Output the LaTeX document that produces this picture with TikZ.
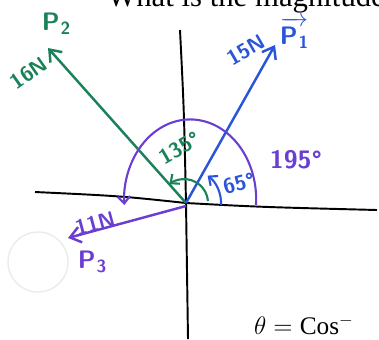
\documentclass[tikz,border=0pt]{standalone}
\usepackage{fontspec}
\setmainfont{Liberation Serif}
\usepackage{amsmath}
\usetikzlibrary{arrows.meta,positioning,calc}
\definecolor{penblue}{HTML}{2A55D8}
\definecolor{pengreen}{HTML}{1A8158}
\definecolor{penpurple}{HTML}{6B3ED2}
\newcommand{\Pvec}[1]{P\kern0.5pt\raisebox{-0.35ex}{\normalsize #1}}

\begin{document}
\begin{tikzpicture}[x=0.02cm, y=0.02cm,
  vec/.style={-{Straight Barb[length=6pt,width=9pt]}, line width=1.4pt, draw=#1},
  angarc/.style={-{Straight Barb[length=4pt,width=7pt]}, line width=1.2pt, draw=#1},
  axisline/.style={line width=1.1pt, black},
  pen/.style={font=\sffamily\bfseries\large, text=#1, inner sep=1pt}
]
  \useasboundingbox (0,0) rectangle (379,-339);
  % axes
  \coordinate (O) at (186,-203);
  \coordinate (xl) at (35,-192);
  \coordinate (xr) at (377,-210);
  \coordinate (yt) at (180,-30);
  \coordinate (yb) at (188,-339);
  \draw[axisline] (xl) .. controls (120,-196) .. (O) .. controls (260,-207) .. (xr);
  \draw[axisline] (yt) .. controls (184,-110) .. (O) -- (yb);

  % force vectors
  \coordinate (p1) at (275,-45);
  \coordinate (p2) at (48,-48);
  \coordinate (p3) at (68,-238);
  \draw[vec=pengreen] (O) -- (p2);
  \draw[vec=penblue] (O) -- (p1);
  \draw[vec=penpurple] ($(O)+(0,-3)$) -- (p3);

  % angle arcs
  \draw[angarc=penpurple] (256,-205) arc[start angle=-4, end angle=184, x radius=66, y radius=80];
  \draw[angarc=pengreen] (208,-201) arc[start angle=5, end angle=128, radius=24];
  \draw[angarc=penblue] (221,-205) arc[start angle=-3, end angle=52, radius=35];

  % labels
  \node[pen=pengreen, font=\sffamily\bfseries\Large] (lp2) at (56,-24) {\Pvec{2}};
  \node[pen=pengreen, rotate=35] (l16) at (29,-73) {16N};
  \node[pen=penblue, rotate=30] (l15) at (246,-50) {15N};
  \node[pen=penblue, font=\sffamily\bfseries\Large] (lp1) at (294,-33) {$\overrightarrow{\text{\Pvec{1}}}$};
  \node[pen=pengreen, rotate=30] (l135) at (180,-148) {135°};
  \node[pen=penblue, rotate=15] (l65) at (239,-183) {65°};
  \node[pen=penpurple, font=\sffamily\bfseries\Large] (l195) at (296,-160) {195°};
  \node[pen=penpurple, rotate=15] (l11) at (95,-223) {11N};
  \node[pen=penpurple, font=\sffamily\bfseries\Large] (lp3) at (92,-262) {\Pvec{3}};
  \node[font=\Large, anchor=west] (theta) at (248,-325) {$\theta = \mathrm{Cos}^{-}$};

  % cut-off question and faint mark
  \node[font=\fontsize{17.5}{20}\selectfont, anchor=base west, inner sep=0pt] (question) at (107,-6) {What is the magnitude};
  \draw[black!8, line width=0.8pt] (38,-262) circle (30);
\end{tikzpicture}
\end{document}
